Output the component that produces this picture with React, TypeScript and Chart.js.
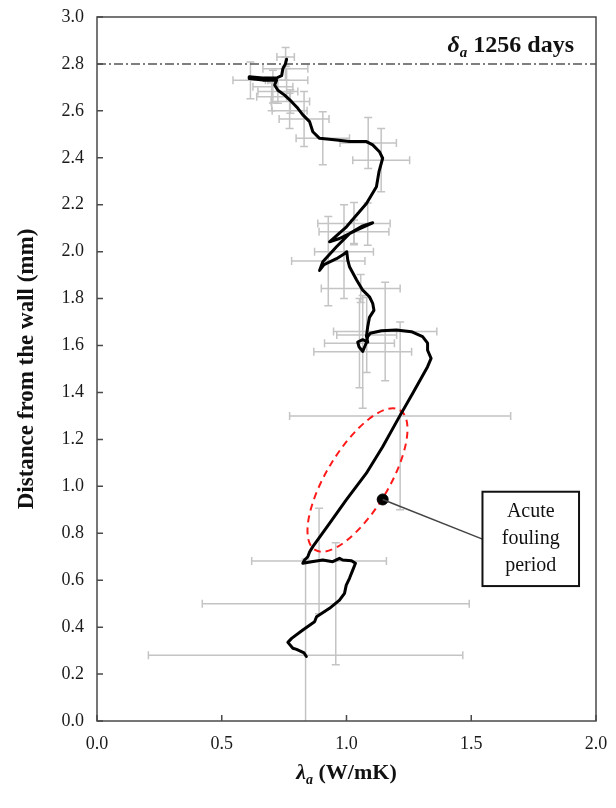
import { useEffect, useRef } from 'react';
import { Chart, registerables } from 'chart.js';

Chart.register(...registerables);

// ---- profile line (lambda_a vs distance from wall), bottom -> top ----
const profileX = [
  0.839, 0.83, 0.80, 0.785, 0.765, 0.78, 0.825, 0.872, 0.88, 0.932, 0.972, 0.992, 0.999, 1.012, 1.025, 1.036,
  1.02, 0.985, 0.972, 0.945, 0.905, 0.86, 0.825, 0.832, 0.845, 0.852, 0.865, 0.932, 0.999, 1.079, 1.145, 1.212,
  1.265, 1.325, 1.339, 1.325, 1.325, 1.305, 1.26, 1.2, 1.14, 1.095, 1.085, 1.079, 1.075, 1.065, 1.05, 1.045,
  1.065, 1.085, 1.08, 1.085, 1.092, 1.11, 1.105, 1.092, 1.065, 1.04, 1.012, 1.005, 1.001, 0.99, 0.96, 0.91,
  0.892, 0.905, 0.96, 1.012, 1.065, 1.105, 1.04, 0.972, 0.932, 1.0, 1.08, 1.12, 1.13, 1.145, 1.132, 1.105,
  1.08, 1.012, 0.96, 0.892, 0.865, 0.852, 0.825, 0.805, 0.78, 0.752, 0.725, 0.712, 0.72, 0.665, 0.612, 0.61,
  0.665, 0.72, 0.74, 0.745, 0.755, 0.76,
];
const profileY = [
  0.275, 0.29, 0.305, 0.31, 0.335, 0.352, 0.388, 0.423, 0.444, 0.48, 0.515, 0.544, 0.579, 0.608, 0.643, 0.672,
  0.683, 0.686, 0.693, 0.679, 0.686, 0.679, 0.672, 0.686, 0.70, 0.72, 0.743, 0.842, 0.942, 1.055, 1.169, 1.297,
  1.396, 1.51, 1.545, 1.58, 1.61, 1.638, 1.659, 1.666, 1.663, 1.652, 1.638, 1.61, 1.60, 1.575, 1.595, 1.615,
  1.625, 1.615, 1.64, 1.68, 1.72, 1.75, 1.78, 1.808, 1.836, 1.88, 1.936, 1.964, 2.0, 1.99, 1.97, 1.945,
  1.92, 1.957, 2.021, 2.077, 2.11, 2.123, 2.092, 2.056, 2.042, 2.106, 2.205, 2.277, 2.34, 2.398, 2.426, 2.455,
  2.469, 2.469, 2.476, 2.483, 2.511, 2.554, 2.583, 2.611, 2.639, 2.667, 2.688, 2.71, 2.731, 2.731, 2.738, 2.745,
  2.74, 2.74, 2.75, 2.78, 2.80, 2.82,
];

// ---- error bars (centre, symmetric errors) ----
const errX = [0.836, 0.957, 0.89, 1.215, 1.155, 1.052, 1.065, 1.081, 1.057, 0.927, 0.99, 1.03, 1.03, 1.085,
  1.139, 1.087, 0.905, 0.83, 0.772, 0.775, 0.756, 0.755, 0.615, 0.705, 0.725, 0.76, 0.70];
const errY = [0.28, 0.50, 0.682, 1.30, 1.66, 1.61, 1.573, 1.645, 1.843, 1.96, 2.0, 2.12, 2.085, 2.117,
  2.39, 2.463, 2.483, 2.565, 2.60, 2.64, 2.83, 2.78, 2.73, 2.703, 2.682, 2.731, 2.66];
const errXSize = [0.63, 0.535, 0.27, 0.443, 0.207, 0.14, 0.196, 0.12, 0.158, 0.147, 0.118, 0.145, 0.14, 0.0,
  0.114, 0.113, 0.107, 0.10, 0.07, 0.077, 0.035, 0.09, 0.07, 0.08, 0.08, 0.085, 0.06];
const errYSize = [0.41, 0.26, 0.225, 0.40, 0.21, 0.19, 0.24, 0.16, 0.06, 0.19, 0.2, 0.09, 0.05, 0.09,
  0.135, 0.109, 0.113, 0.117, 0.075, 0.05, 0.04, 0.05, 0.078, 0.07, 0.05, 0.05, 0.06];

// ---- axes ----
const xTicks = [0, 0.5, 1.0, 1.5, 2.0];
const yTicks = [0, 0.2, 0.4, 0.6, 0.8, 1.0, 1.2, 1.4, 1.6, 1.8, 2.0, 2.2, 2.4, 2.6, 2.8, 3.0];
const xTitleSymbol = 'λ';
const xTitleSub = 'a';
const xTitleRest = ' (W/mK)';
const yTitle = 'Distance from the wall (mm)';

// ---- annotations ----
const refLineY = [2.8];
const refSymbol = 'δ';
const refSub = 'a';
const refText = ' 1256 days';
const markerX = [1.145];
const markerY = [0.944];
const ellipseTipLow = [0.874, 0.729];
const ellipseTipHigh = [1.214, 1.325];
const boxCorner1 = [1.545, 0.977];
const boxCorner2 = [1.932, 0.575];
const leaderEnd = [1.545, 0.775];
const boxLines = ['Acute', 'fouling', 'period'];

const SERIF = '"Liberation Serif", "Times New Roman", serif';

const overlay = {
  id: 'overlay',
  beforeDatasetsDraw(chart: any) {
    const { ctx, chartArea: a, scales } = chart;
    const x = scales.x, y = scales.y;
    ctx.save();
    ctx.beginPath();
    ctx.rect(a.left, a.top, a.right - a.left, a.bottom - a.top);
    ctx.clip();
    // error bars
    ctx.strokeStyle = '#c4c4c4';
    ctx.lineWidth = 1.5;
    const cap = 4;
    for (let i = 0; i < errX.length; i++) {
      const cx = x.getPixelForValue(errX[i]);
      const cy = y.getPixelForValue(errY[i]);
      if (errXSize[i] > 0) {
        const x0 = x.getPixelForValue(errX[i] - errXSize[i]);
        const x1 = x.getPixelForValue(errX[i] + errXSize[i]);
        ctx.beginPath();
        ctx.moveTo(x0, cy); ctx.lineTo(x1, cy);
        ctx.moveTo(x0, cy - cap); ctx.lineTo(x0, cy + cap);
        ctx.moveTo(x1, cy - cap); ctx.lineTo(x1, cy + cap);
        ctx.stroke();
      }
      if (errYSize[i] > 0) {
        const y0 = y.getPixelForValue(errY[i] - errYSize[i]);
        const y1 = y.getPixelForValue(errY[i] + errYSize[i]);
        ctx.beginPath();
        ctx.moveTo(cx, y0); ctx.lineTo(cx, y1);
        ctx.moveTo(cx - cap, y0); ctx.lineTo(cx + cap, y0);
        ctx.moveTo(cx - cap, y1); ctx.lineTo(cx + cap, y1);
        ctx.stroke();
      }
    }
    // dash-dot reference line
    ctx.strokeStyle = '#555555';
    ctx.lineWidth = 1.5;
    ctx.setLineDash([9, 3, 2, 3]);
    for (const v of refLineY) {
      const py = y.getPixelForValue(v);
      ctx.beginPath();
      ctx.moveTo(a.left, py); ctx.lineTo(a.right, py);
      ctx.stroke();
    }
    // red dashed ellipse
    const p1x = x.getPixelForValue(ellipseTipLow[0]), p1y = y.getPixelForValue(ellipseTipLow[1]);
    const p2x = x.getPixelForValue(ellipseTipHigh[0]), p2y = y.getPixelForValue(ellipseTipHigh[1]);
    const ecx = (p1x + p2x) / 2, ecy = (p1y + p2y) / 2;
    const semiMajor = Math.hypot(p2x - p1x, p2y - p1y) / 2;
    const rot = Math.atan2(p2y - p1y, p2x - p1x);
    ctx.strokeStyle = '#ff1a1a';
    ctx.lineWidth = 2;
    ctx.setLineDash([7, 5]);
    ctx.beginPath();
    ctx.ellipse(ecx, ecy, semiMajor, 31, rot, 0, Math.PI * 2);
    ctx.stroke();
    ctx.restore();
  },
  afterDatasetsDraw(chart: any) {
    const { ctx, chartArea: a, scales } = chart;
    const x = scales.x, y = scales.y;
    ctx.save();
    // leader line
    const mx = x.getPixelForValue(markerX[0]), my = y.getPixelForValue(markerY[0]);
    const lx = x.getPixelForValue(leaderEnd[0]), ly = y.getPixelForValue(leaderEnd[1]);
    ctx.strokeStyle = '#444';
    ctx.lineWidth = 1.5;
    ctx.beginPath(); ctx.moveTo(mx, my); ctx.lineTo(lx, ly); ctx.stroke();
    // annotation box
    const bx0 = x.getPixelForValue(boxCorner1[0]), by0 = y.getPixelForValue(boxCorner1[1]);
    const bx1 = x.getPixelForValue(boxCorner2[0]), by1 = y.getPixelForValue(boxCorner2[1]);
    ctx.fillStyle = '#ffffff';
    ctx.fillRect(bx0, by0, bx1 - bx0, by1 - by0);
    ctx.strokeStyle = '#111';
    ctx.lineWidth = 2;
    ctx.strokeRect(bx0, by0, bx1 - bx0, by1 - by0);
    ctx.fillStyle = '#111';
    ctx.font = `20px ${SERIF}`;
    ctx.textAlign = 'center';
    ctx.textBaseline = 'middle';
    const bcx = (bx0 + bx1) / 2, bcy = (by0 + by1) / 2;
    boxLines.forEach((t, i) => ctx.fillText(t, bcx, bcy + (i - 1) * 27));

    // frame
    ctx.strokeStyle = '#4a4a4a';
    ctx.lineWidth = 1.5;
    ctx.strokeRect(a.left, a.top, a.right - a.left, a.bottom - a.top);
    // inward ticks
    ctx.beginPath();
    for (const v of xTicks) {
      const px = x.getPixelForValue(v);
      ctx.moveTo(px, a.bottom); ctx.lineTo(px, a.bottom - 6);
    }
    for (const v of yTicks) {
      const py = y.getPixelForValue(v);
      ctx.moveTo(a.left, py); ctx.lineTo(a.left + 6, py);
    }
    ctx.stroke();

    // reference label
    ctx.fillStyle = '#111';
    ctx.textAlign = 'left';
    ctx.textBaseline = 'alphabetic';
    const bigF = `bold 24px ${SERIF}`;
    const symF = `italic bold 24px ${SERIF}`;
    const subF = `italic bold 15px ${SERIF}`;
    ctx.font = symF; const w1 = ctx.measureText(refSymbol).width;
    ctx.font = subF; const w2 = ctx.measureText(refSub).width;
    ctx.font = bigF; const w3 = ctx.measureText(refText).width;
    const rx = a.right - 22 - (w1 + w2 + w3);
    const rby = y.getPixelForValue(refLineY[0]) - 12;
    ctx.font = symF; ctx.fillText(refSymbol, rx, rby);
    ctx.font = subF; ctx.fillText(refSub, rx + w1, rby + 5);
    ctx.font = bigF; ctx.fillText(refText, rx + w1 + w2, rby);

    // x title
    const tF = `bold 22px ${SERIF}`;
    const tSymF = `italic bold 22px ${SERIF}`;
    const tSubF = `italic bold 14px ${SERIF}`;
    ctx.font = tSymF; const t1 = ctx.measureText(xTitleSymbol).width;
    ctx.font = tSubF; const t2 = ctx.measureText(xTitleSub).width;
    ctx.font = tF; const t3 = ctx.measureText(xTitleRest).width;
    const tx = (a.left + a.right) / 2 - (t1 + t2 + t3) / 2;
    const tby = 779;
    ctx.font = tSymF; ctx.fillText(xTitleSymbol, tx, tby);
    ctx.font = tSubF; ctx.fillText(xTitleSub, tx + t1, tby + 5);
    ctx.font = tF; ctx.fillText(xTitleRest, tx + t1 + t2, tby);

    // y title
    ctx.save();
    ctx.translate(27, (a.top + a.bottom) / 2);
    ctx.rotate(-Math.PI / 2);
    ctx.textAlign = 'center';
    ctx.textBaseline = 'middle';
    ctx.font = `bold 23px ${SERIF}`;
    ctx.fillText(yTitle, 0, 0);
    ctx.restore();

    ctx.restore();
  },
};

export default function App() {
  const ref = useRef<HTMLCanvasElement | null>(null);
  useEffect(() => {
    if (!ref.current) return;
    const chart = new Chart(ref.current, {
      type: 'scatter',
      data: {
        datasets: [
          {
            label: 'marker',
            data: markerX.map((v, i) => ({ x: v, y: markerY[i] })),
            pointRadius: 5.5,
            pointBackgroundColor: '#000',
            pointBorderColor: '#000',
            order: 0,
          },
          {
            label: 'profile',
            data: profileX.map((v, i) => ({ x: v, y: profileY[i] })),
            showLine: true,
            borderColor: '#000',
            borderWidth: 3,
            pointRadius: 0,
            tension: 0,
            borderJoinStyle: 'round',
            borderCapStyle: 'round',
            order: 1,
          } as any,
        ],
      },
      options: {
        animation: false,
        responsive: true,
        maintainAspectRatio: false,
        layout: { padding: { top: 17, right: 20, left: 0, bottom: 0 } },
        plugins: { legend: { display: false }, tooltip: { enabled: false } },
        scales: {
          x: {
            type: 'linear',
            min: 0,
            max: 2,
            ticks: {
              stepSize: 0.5,
              callback: (v: any) => Number(v).toFixed(1),
              font: { family: SERIF, size: 18 },
              color: '#1a1a1a',
              padding: 12,
              maxRotation: 0,
            },
            grid: { display: false, drawTicks: false },
            border: { display: false },
            afterFit: (s: any) => { s.height = 87; s.paddingRight = 0; s.paddingLeft = 0; },
          },
          y: {
            type: 'linear',
            min: 0,
            max: 3,
            ticks: {
              stepSize: 0.2,
              callback: (v: any) => Number(v).toFixed(1),
              font: { family: SERIF, size: 18 },
              color: '#1a1a1a',
              padding: 13,
            },
            grid: { display: false, drawTicks: false },
            border: { display: false },
            afterFit: (s: any) => { s.width = 97; s.paddingTop = 0; s.paddingBottom = 0; },
          },
        },
      },
      plugins: [overlay],
    });
    return () => chart.destroy();
  }, []);
  return (
    <div style={{ position: 'fixed', left: 0, top: 0, width: 616, height: 808, background: '#fff' }}>
      <canvas ref={ref} />
    </div>
  );
}
